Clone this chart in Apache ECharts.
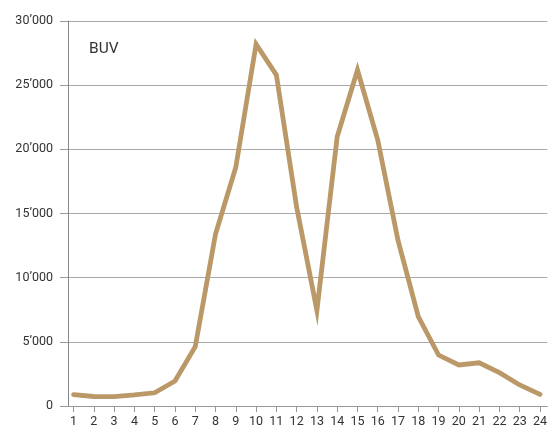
<!DOCTYPE html>
<html><head><meta charset="utf-8">
<script src="https://cdn.jsdelivr.net/npm/echarts@6/dist/echarts.min.js"></script>
<style>html,body{margin:0;padding:0;background:#fff}#c{width:550px;height:428px}</style>
</head><body><div id="c"></div>
<script>
const hours = [1,2,3,4,5,6,7,8,9,10,11,12,13,14,15,16,17,18,19,20,21,22,23,24];
const values = [880,740,730,860,1030,1950,4620,13400,18600,28200,25800,15500,7450,20980,26180,20730,12900,6960,3970,3200,3370,2600,1640,900];
const yTicks = [0,5000,10000,15000,20000,25000,30000];
const seriesName = 'BUV';

function fmt(v){
  if (v === 0) return '0';
  const s = String(v);
  return s.slice(0, s.length-3) + '’' + s.slice(-3);
}

const chart = echarts.init(document.getElementById('c'), null, {renderer:'canvas'});
chart.setOption({
  animation:false,
  grid:{left:68, right:0, top:21, bottom:22, containLabel:false},
  title:{text:seriesName, left:84, top:36, textStyle:{fontFamily:'Roboto', fontSize:15.5, fontWeight:'normal', color:'#333'}},
  xAxis:{
    type:'value', min:0.725, max:24.36,
    axisLine:{show:true, lineStyle:{color:'#999', width:1}},
    axisTick:{show:true, length:6, customValues:hours, lineStyle:{color:'#999'}},
    axisLabel:{customValues:hours, fontFamily:'Roboto', fontSize:12.5, color:'#333', margin:9},
    splitLine:{show:false}
  },
  yAxis:{
    type:'value', min:0, max:30000, interval:5000,
    axisLine:{show:true, lineStyle:{color:'#888', width:1}},
    axisTick:{show:true, length:8, lineStyle:{color:'#999'}},
    axisLabel:{formatter:fmt, fontFamily:'Roboto', fontSize:12.5, color:'#333', margin:15},
    splitLine:{show:true, lineStyle:{color:'#aaa', width:1}}
  },
  series:[{
    name:seriesName, type:'line', data:hours.map((h,i)=>[h, values[i]]),
    showSymbol:false, lineStyle:{color:'#BA9867', width:4.8, cap:'round', join:'miter'},
    itemStyle:{color:'#BA9867'}
  }]
});
</script></body></html>
